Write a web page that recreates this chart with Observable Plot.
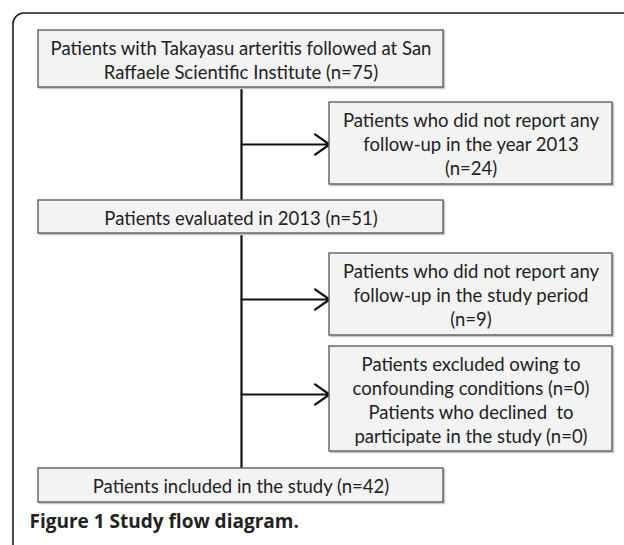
<!DOCTYPE html>
<html>
<head>
<meta charset="utf-8">
<script src="https://cdn.jsdelivr.net/npm/d3@7"></script>
<script src="https://cdn.jsdelivr.net/npm/@observablehq/plot@0.6"></script>
<style>
  html, body { margin: 0; padding: 0; background: #fff; }
  #chart svg { overflow: hidden; display: block; }
</style>
</head>
<body>
<div id="chart"></div>
<script>
// ---- data ----
const mainLabels = [
  "Patients with Takayasu arteritis followed at San\nRaffaele Scientific Institute (n=75)",
  "Patients evaluated in 2013 (n=51)",
  "Patients included in the study (n=42)"
];
const sideLabels = [
  "Patients who did not report any\nfollow-up in the year 2013\n(n=24)",
  "Patients who did not report any\nfollow-up in the study period\n(n=9)",
  "Patients excluded owing to\nconfounding conditions (n=0)\nPatients who declined  to\nparticipate in the study (n=0)"
];
const counts = [75, 51, 42, 24, 9, 0];
const caption = "Figure 1 Study flow diagram.";

// ---- layout (pixel coordinates of the picture) ----
const W = 624, H = 545;
const mainCol = {x1: 38, x2: 443};
const sideCol = {x1: 329, x2: 612};
const mainRows = [{y1: 30, y2: 87}, {y1: 200, y2: 233}, {y1: 468, y2: 502}];
const sideRows = [{y1: 102, y2: 184}, {y1: 253, y2: 335}, {y1: 346, y2: 451}];
const arrowY = [144, 299, 394];
const spineX = 241;

const boxes = [
  ...mainLabels.map((label, i) => ({label, ...mainCol, ...mainRows[i]})),
  ...sideLabels.map((label, i) => ({label, ...sideCol, ...sideRows[i]}))
];
const arrows = arrowY.map(y => ({x1: spineX, x2: sideCol.x1, y}));

const chart = Plot.plot({
  width: W,
  height: H,
  margin: 0,
  x: {domain: [0, W], range: [0, W], axis: null},
  y: {domain: [0, H], range: [0, H], axis: null},
  style: {background: "#fff", overflow: "hidden"},
  marks: [
    // outer frame
    Plot.rect([{x1: 13, x2: 680, y1: 13, y2: 600}], {
      x1: "x1", x2: "x2", y1: "y1", y2: "y2",
      fill: "none", stroke: "#1a1a1a", strokeWidth: 1.6, rx: 11
    }),
    // spine
    Plot.ruleX([spineX], {y1: mainRows[0].y2, y2: mainRows[2].y1, stroke: "#111", strokeWidth: 2.2}),
    // arrows
    Plot.arrow(arrows, {
      x1: "x1", x2: "x2", y1: "y", y2: "y",
      stroke: "#111", strokeWidth: 2.2, headLength: 12, headAngle: 70, inset: 0
    }),
    // box shadows
    Plot.rect(boxes, {
      x1: d => d.x1 + 1.5, x2: d => d.x2 + 1.5, y1: d => d.y1 + 1.5, y2: d => d.y2 + 1.5,
      fill: "#c8c8c8", stroke: "#c8c8c8", strokeWidth: 1.5
    }),
    // boxes
    Plot.rect(boxes, {
      x1: "x1", x2: "x2", y1: "y1", y2: "y2",
      fill: "#f3f3f3", stroke: "#5e5e5e", strokeWidth: 1.4
    }),
    // labels
    Plot.text(boxes, {
      x: d => (d.x1 + d.x2) / 2,
      y: d => (d.y1 + d.y2) / 2,
      text: "label",
      fontSize: 18.5,
      lineHeight: 1.3,
      fill: "#222",
      fontFamily: "Lato, 'Open Sans', sans-serif"
    }),
    // caption
    Plot.text([caption], {
      x: () => 29, y: () => 521,
      text: d => d,
      textAnchor: "start",
      fontSize: 19,
      fontWeight: "bold",
      fill: "#222",
      fontFamily: "'Open Sans', sans-serif"
    })
  ]
});
document.getElementById("chart").appendChild(chart);
</script>
</body>
</html>
